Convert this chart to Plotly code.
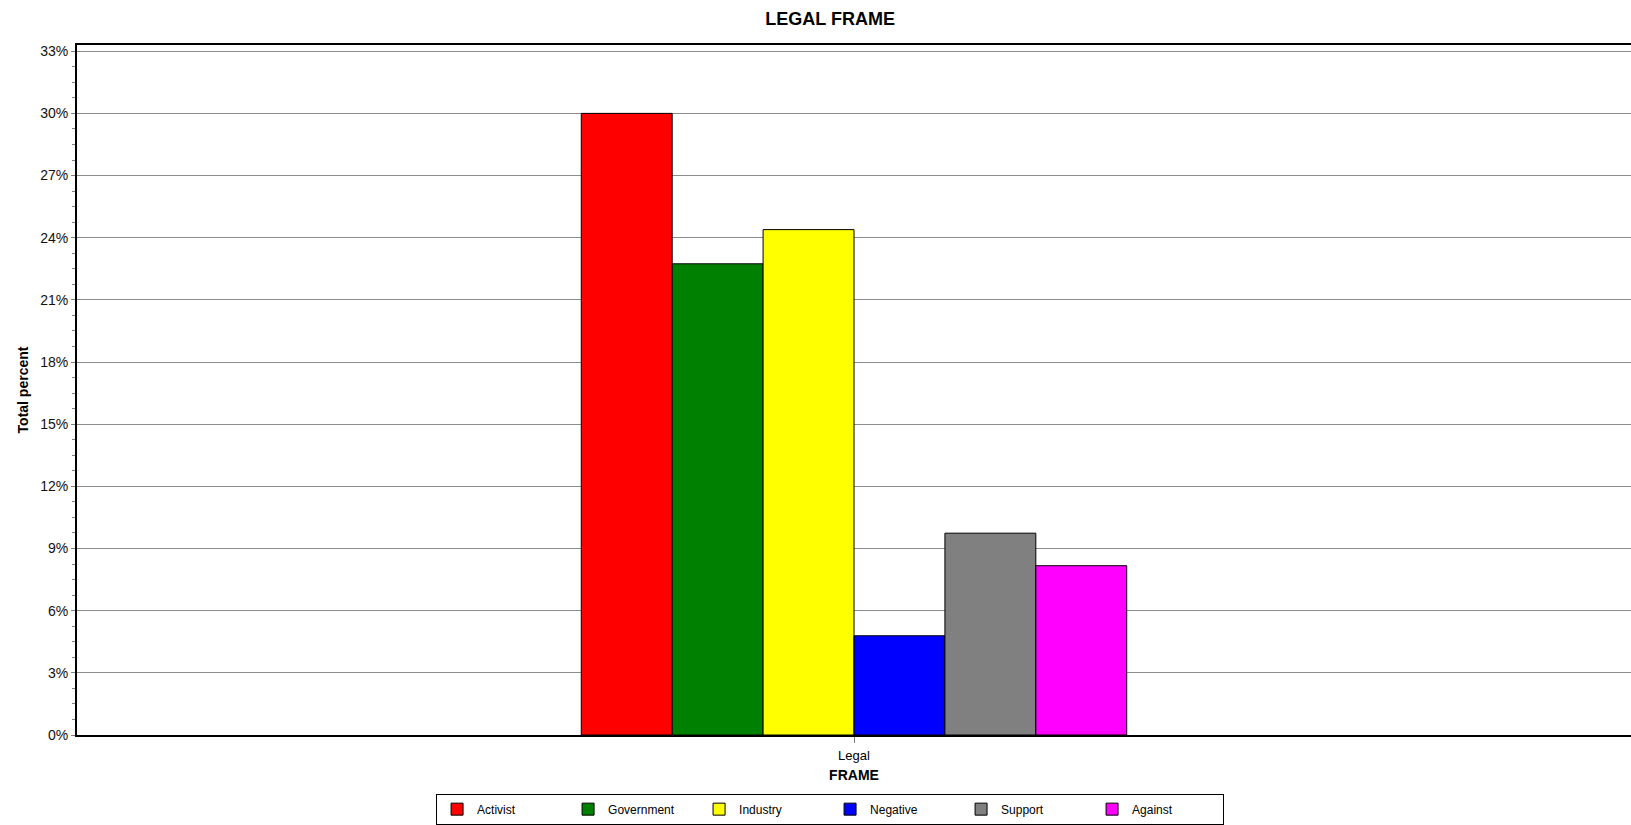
import plotly.graph_objects as go

categories = ["Legal"]
series_names = ["Activist", "Government", "Industry", "Negative", "Support", "Against"]
series_values = [30.0, 22.74, 24.39, 4.79, 9.74, 8.17]
series_colors = ["#ff0000", "#008000", "#ffff00", "#0000ff", "#808080", "#ff00ff"]
y_ticks = [0, 3, 6, 9, 12, 15, 18, 21, 24, 27, 30, 33]
y_tick_labels = [f"{v}%" for v in y_ticks]

FONT = "Liberation Sans, Arial, sans-serif"

fig = go.Figure()
for name, val, col in zip(series_names, series_values, series_colors):
    fig.add_trace(go.Bar(
        x=categories, y=[val], name=name,
        marker=dict(color=col, line=dict(color="#000000", width=1)),
    ))

fig.update_layout(
    width=1631, height=825,
    margin=dict(l=77, r=0, t=45, b=85),
    paper_bgcolor="white", plot_bgcolor="white",
    barmode="group", bargap=0.649, bargroupgap=0,
    font=dict(family=FONT, size=13, color="#000000"),
    title=dict(text="<b>LEGAL FRAME</b>", x=0.4846, xref="paper", xanchor="center",
               y=0.977, yanchor="middle", yref="container",
               font=dict(family=FONT, size=18, color="#000000")),
    showlegend=True,
    legend=dict(orientation="h", x=0.4846, xanchor="center", y=-0.085, yanchor="top",
                bordercolor="#000000", borderwidth=1, bgcolor="white",
                entrywidth=86, entrywidthmode="pixels",
                font=dict(family=FONT, size=12, color="#000000"),
                traceorder="normal"),
    xaxis=dict(
        showline=True, linecolor="#000000", linewidth=2, mirror=True,
        ticks="outside", ticklen=6, tickcolor="#808080",
        ticklabelstandoff=1,
        tickfont=dict(family=FONT, size=13, color="#000000"),
        title=dict(text="<b>FRAME</b>", font=dict(family=FONT, size=14, color="#000000"), standoff=9),
        showgrid=False,
    ),
    yaxis=dict(
        range=[0, 33.3], tickmode="array", tickvals=y_ticks, ticktext=y_tick_labels,
        showline=True, linecolor="#000000", linewidth=2,
        ticks="outside", ticklen=4, tickcolor="#808080",
        tickfont=dict(family=FONT, size=14, color="#111111"),
        showgrid=True, gridcolor="#8c8c8c", gridwidth=1,
        zeroline=False,
        minor=dict(dtick=0.75, ticks="outside", ticklen=3, tickcolor="#808080", showgrid=False),
        title=dict(text="<b>Total percent</b>", font=dict(family=FONT, size=14, color="#000000"), standoff=8),
    ),
)

fig.write_html("out.html", config={"displayModeBar": False},
               post_script="document.body.style.margin='0';")
